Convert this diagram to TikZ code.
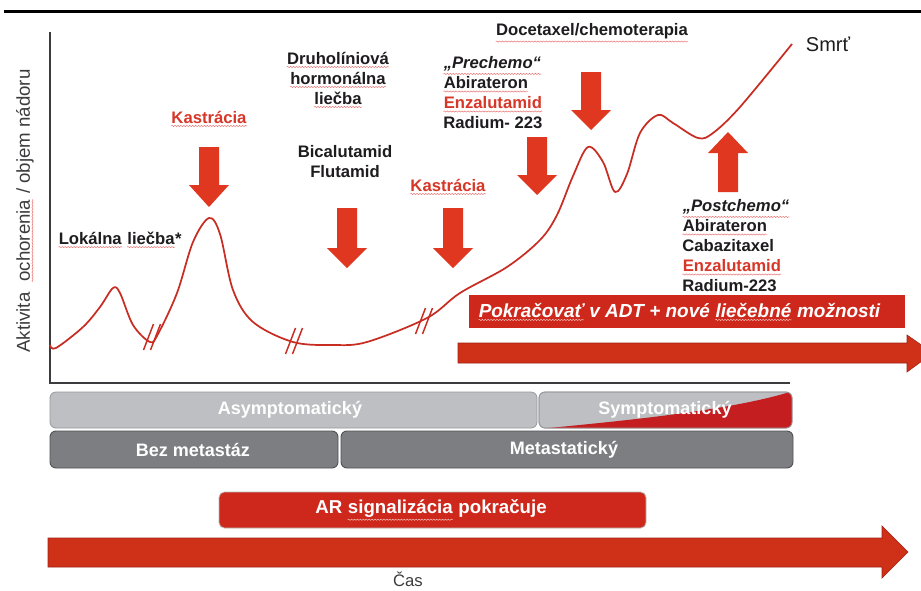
\documentclass[tikz,border=0pt]{standalone}
\usepackage{fontspec}
\setmainfont{Liberation Sans}
\usetikzlibrary{decorations.pathmorphing}
\definecolor{arrowred}{RGB}{224,56,32}
\definecolor{curvered}{RGB}{200,45,35}
\definecolor{boxred}{RGB}{206,40,28}
\definecolor{barred}{RGB}{206,48,24}
\definecolor{baredge}{RGB}{160,35,20}
\definecolor{sympred}{RGB}{196,30,32}
\definecolor{txtdark}{RGB}{30,28,30}
\definecolor{txtgray}{RGB}{60,60,62}
\definecolor{txtred}{RGB}{215,55,40}
\definecolor{squigred}{RGB}{235,110,110}
\definecolor{squigwhite}{RGB}{245,200,195}
\definecolor{lightbar}{RGB}{190,191,194}
\definecolor{lightedge}{RGB}{150,152,155}
\definecolor{darkbar}{RGB}{124,126,130}
\definecolor{darkedge}{RGB}{80,81,85}
\tikzset{squigline/.style={line width=0.35pt, decorate,
  decoration={snake, amplitude=0.45pt, segment length=2.2pt}}}
\newcommand\squigc[2]{\tikz[baseline=(w.base)]{\node[inner sep=0pt] (w) {#2};
  \draw[#1, squigline] ([yshift=-1.6pt]w.south west) -- ([yshift=-1.6pt]w.south east);}}
\newcommand\squig[1]{\squigc{squigred}{#1}}
\newcommand\squigw[1]{\squigc{squigwhite}{#1}}
\newcommand\dnarr[4]{%
  \fill[arrowred] ({#1-10},#2) -- ({#1+10},#2) -- ({#1+10},#3) -- ({#1+20},#3)
    -- (#1,#4) -- ({#1-20},#3) -- ({#1-10},#3) -- cycle;}
\newcommand\brk[2]{%
  \draw[curvered, line width=1.1pt] ({#1-8.5},{#2+13}) -- ({#1+1.5},{#2-13});
  \draw[curvered, line width=1.1pt] ({#1-1.5},{#2+13}) -- ({#1+8.5},{#2-13});}
\begin{document}
\begin{tikzpicture}[x=0.75pt,y=-0.75pt,
  lbl/.style={inner sep=0pt, font=\fontsize{12.5}{15}\selectfont\bfseries, text=txtdark},
  redlbl/.style={lbl, text=txtred},
  bartxt/.style={inner sep=0pt, font=\fontsize{13.5}{16}\selectfont\bfseries, text=white}]
\useasboundingbox (0,0) rectangle (921,590);
\fill[white] (0,0) rectangle (921,590);
% top rule
\draw[black, line width=2.3pt] (4,11.5) -- (921,11.5);
% axes
\draw[txtgray, line width=1.6pt] (50,32) -- (50,383) -- (790,383);
\node[rotate=90, inner sep=0pt, font=\fontsize{14}{16}\selectfont, text=txtgray] (ylab) at (25,211)
  {Aktivita\ \ \squig{ochorenia} / objem nádoru};
% disease curve
\draw[curvered, line width=1.3pt, line join=round] plot[smooth, tension=0.55] coordinates {
  (50,345) (56,348) (83,327) (100,307) (113,288) (120,293) (133,325) (150,342)
  (158,334) (177,293) (193,242) (209,218) (220,234) (233,290) (253,322) (293,342)
  (333,345) (367,342) (427,318) (460,293) (507,267) (540,240) (557,215) (573,176)
  (588,147) (603,162) (615,192) (627,174) (640,133) (658,115) (673,123) (698,138)
  (713,133) (740,107) (792,44)};
\brk{152}{337}
\brk{294}{341}
\brk{424}{321}
% down arrows
\dnarr{209}{147}{185}{207}
\dnarr{347}{208}{248}{268}
\dnarr{453}{208}{248}{268}
\dnarr{537}{137}{175}{195}
\dnarr{591}{72}{110}{130}
% up arrow
\fill[arrowred] (718,192) -- (738,192) -- (738,153) -- (748,153) -- (728,132)
  -- (708,153) -- (718,153) -- cycle;
% labels
\node[lbl, anchor=west] (lok) at (58,240) {\squig{Lokálna} \squig{liečba}*};
\node[redlbl] (kas1) at (209,119) {\squig{Kastrácia}};
\node[lbl, align=center] (druh) at (338,80) {\squig{Druholíniová}\\\squig{hormonálna}\\\squig{liečba}};
\node[lbl, align=center] (bica) at (345,162) {Bicalutamid\\Flutamid};
\node[redlbl] (kas2) at (448,187) {\squig{Kastrácia}};
\node[lbl] (doce) at (592,33) {\squig{Docetaxel/chemoterapia}};
\node[lbl, align=left, anchor=west] (pre) at (443,93)
  {\squig{\textit{„Prechemo“}}\\\squig{Abirateron}\\\textcolor{txtred}{\squig{Enzalutamid}}\\Radium- 223};
\node[lbl, align=left, anchor=west] (post) at (682,246)
  {\squig{\textit{„Postchemo“}}\\\squig{Abirateron}\\Cabazitaxel\\\textcolor{txtred}{\squig{Enzalutamid}}\\Radium-223};
\node[inner sep=0pt, font=\fontsize{15}{17}\selectfont, text=txtdark] (smrt) at (828,44) {Smrť};
% continue ADT box
\fill[boxred] (469,295) rectangle (905,328);
\node[anchor=west, inner sep=0pt, font=\fontsize{14.2}{16}\selectfont\bfseries\itshape, text=white] (pok) at (478,312)
  {\squigw{Pokračovať} v ADT + nové \squigw{liečebné} možnosti};
% upper long arrow
\fill[barred, draw=baredge, line width=0.4pt] (458,343) -- (907,343) -- (907,335) -- (933,353)
  -- (907,372) -- (907,363) -- (458,363) -- cycle;
% status bars
\draw[fill=lightbar, draw=lightedge, line width=0.6pt, rounded corners=4.5pt] (50,392) rectangle (537,428);
\draw[fill=lightbar, draw=lightedge, line width=0.6pt, rounded corners=4.5pt] (539,392) rectangle (792,428);
\begin{scope}
  \clip[rounded corners=4.5pt] (539,392) rectangle (792,428);
  \fill[sympred] (539,429) .. controls (620,421) and (730,411) .. (793,391) -- (793,429) -- cycle;
\end{scope}
\draw[draw=lightedge, line width=0.6pt, rounded corners=4.5pt] (539,392) rectangle (792,428);
\draw[fill=darkbar, draw=darkedge, line width=0.7pt, rounded corners=4.5pt] (50,431) rectangle (338,468);
\draw[fill=darkbar, draw=darkedge, line width=0.7pt, rounded corners=4.5pt] (341,431) rectangle (793,468);
\node[bartxt] (asym) at (290,410) {Asymptomatický};
\node[bartxt] (sym) at (665,410) {Symptomatický};
\node[bartxt] (bez) at (193,450) {Bez metastáz};
\node[bartxt] (meta) at (564,450) {Metastatický};
% AR signalling box
\draw[fill=boxred, draw=gray!55, line width=0.6pt, rounded corners=4pt] (219,492) rectangle (646,528);
\node[bartxt, font=\fontsize{14}{16}\selectfont\bfseries] (ar) at (431,510) {AR \squigw{signalizácia} pokračuje};
% time arrow
\fill[barred, draw=baredge, line width=0.5pt] (48,538) -- (882,538) -- (882,526) -- (908,552)
  -- (882,578) -- (882,567) -- (48,567) -- cycle;
\node[inner sep=0pt, font=\fontsize{12.5}{15}\selectfont, text=txtgray] (cas) at (408,579) {Čas};
\end{tikzpicture}
\end{document}
